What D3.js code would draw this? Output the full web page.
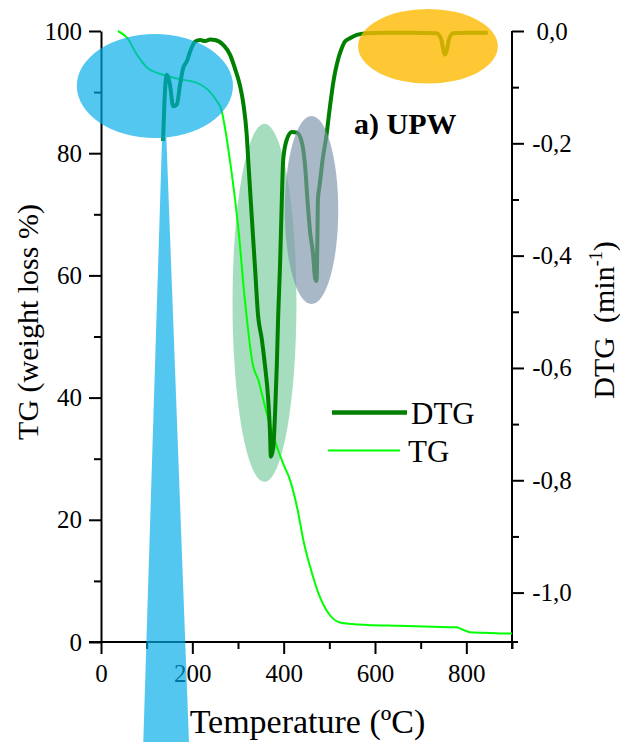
<!DOCTYPE html>
<html>
<head>
<meta charset="utf-8">
<script src="https://cdn.jsdelivr.net/npm/d3@7"></script>
<style>
  html, body { margin: 0; padding: 0; background: #ffffff; }
  svg { display: block; }
  text { font-family: "Liberation Serif", "Times New Roman", serif; fill: #000; }
</style>
</head>
<body>
<script>
// ---------------- data ----------------
// TG curve: temperature (°C) and weight (%)
const tgTemp = [37, 57, 79, 101, 129, 173, 210, 239, 254, 264, 273, 282, 291, 301, 315, 333, 344.5, 355, 363, 372, 385, 400, 414, 432, 443, 458, 476, 498, 523, 550, 582, 650, 728, 779, 793, 808, 840, 874, 900];
const tgValue = [100, 98.9, 96.1, 94.0, 93.0, 92.1, 91.5, 90.0, 88.5, 87.0, 83.5, 79.0, 74.0, 67.5, 56.0, 45.2, 42.9, 39.8, 37.4, 35.0, 32.0, 29.0, 26.5, 21.1, 16.7, 12.3, 8.0, 4.7, 3.2, 2.95, 2.8, 2.65, 2.5, 2.4, 2.0, 1.6, 1.5, 1.4, 1.4];

// DTG curve: temperature (°C) and DTG (1/min)
const dtgTemp = [136, 140, 144, 151, 158, 166, 173, 180, 188, 195, 206, 217, 228, 239, 250, 268, 283, 293, 304, 312, 319, 323, 330, 337, 344, 352, 359, 366, 370, 372, 377, 381, 385, 388, 392, 396, 399, 407, 418, 429, 440, 447, 452, 458, 464, 469, 472, 474, 475, 479, 486, 493, 501, 509, 513, 520, 527, 534, 545, 560, 582, 620, 680, 735, 745, 750, 753, 757, 762, 771, 800, 847];
const dtgValue = [-0.196, -0.108, -0.078, -0.096, -0.134, -0.131, -0.096, -0.066, -0.054, -0.037, -0.019, -0.016, -0.018, -0.015, -0.016, -0.025, -0.043, -0.066, -0.096, -0.131, -0.184, -0.238, -0.329, -0.418, -0.507, -0.548, -0.595, -0.654, -0.713, -0.758, -0.743, -0.684, -0.595, -0.507, -0.418, -0.300, -0.229, -0.193, -0.180, -0.181, -0.199, -0.241, -0.300, -0.359, -0.394, -0.441, -0.445, -0.360, -0.300, -0.273, -0.225, -0.190, -0.137, -0.090, -0.072, -0.048, -0.031, -0.019, -0.013, -0.007, -0.004, -0.003, -0.003, -0.004, -0.015, -0.035, -0.042, -0.035, -0.015, -0.004, -0.003, -0.003];

// tick values
const xMajorTicks = [0, 200, 400, 600, 800];
const xMinorTicks = [100, 300, 500, 700, 900];
const tgMajorTicks = [0, 20, 40, 60, 80, 100];
const tgMinorTicks = [10, 30, 50, 70, 90];
const dtgMajorTicks = [0, -0.2, -0.4, -0.6, -0.8, -1.0];
const dtgMinorTicks = [-0.1, -0.3, -0.5, -0.7, -0.9];

// highlight annotations, in data units (temperature, TG %)
const highlightNames = ["green", "grey", "blue", "orange"];
const highlightCx = [358, 461, 118, 716];
const highlightCy = [55.5, 70.7, 91.0, 97.5];
const highlightRx = [70, 58.5, 171, 153];
const highlightRy = [29.3, 15.4, 8.5, 6.1];
// pointer wedge under the blue ellipse: apex and base (temperature, TG %)
const wedgeTemp = [138, 92.6, 192.7];
const wedgeTG = [92.8, -16.4, -16.4];

// ---------------- layout ----------------
const W = 620, H = 742;
const x = d3.scaleLinear().domain([0, 900]).range([101, 512]);
const yL = d3.scaleLinear().domain([0, 100]).range([642, 31]);
const yR = d3.scaleLinear().domain([-1.088, 0]).range([642, 31]);

const svg = d3.select("body").append("svg").attr("width", W).attr("height", H);

const styles = {
  green:  { fill: "rgb(60,179,113)", op: 0.45 },
  grey:   { fill: "rgb(127,149,172)", op: 0.67 },
  blue:   { fill: "rgb(0,172,234)", op: 0.67 },
  orange: { fill: "rgb(252,186,0)", op: 0.8 }
};

function ellipseAttrs(sel, i) {
  sel.attr("cx", x(highlightCx[i]))
     .attr("cy", yL(highlightCy[i]))
     .attr("rx", x(highlightCx[i] + highlightRx[i]) - x(highlightCx[i]))
     .attr("ry", yL(highlightCy[i]) - yL(highlightCy[i] + highlightRy[i]))
     .attr("fill", styles[highlightNames[i]].fill)
     .attr("fill-opacity", styles[highlightNames[i]].op);
}

// green highlight sits under the curves
svg.append("ellipse").call(ellipseAttrs, 0);

// ---------------- axes ----------------
const fmtDTG = v => (Math.abs(v) < 1e-9 ? 0 : v).toFixed(1).replace(".", ",");
const axisStyle = g => {
  g.attr("font-family", null);
  g.selectAll("path, line").attr("stroke", "#000").attr("stroke-width", 2);
  g.selectAll("text").style("font-size", "25px").style("font-family", '"Liberation Serif","Times New Roman",serif');
};

// bottom axis
const gx = svg.append("g").attr("transform", `translate(0,${yL(0)})`);
gx.call(d3.axisBottom(x).tickValues(xMajorTicks).tickSize(12).tickSizeOuter(0).tickPadding(10).tickFormat(d3.format("d")))
  .call(axisStyle);
gx.select(".domain").remove();
gx.append("line").attr("x1", x(0) - 12).attr("x2", x(900) + 6).attr("y1", 0).attr("y2", 0)
  .attr("stroke", "#000").attr("stroke-width", 2);
const gxm = svg.append("g").attr("transform", `translate(0,${yL(0)})`);
gxm.call(d3.axisBottom(x).tickValues(xMinorTicks).tickSize(7).tickFormat(""));
gxm.select(".domain").remove();
gxm.call(axisStyle);

// left axis
const gl = svg.append("g").attr("transform", `translate(${x(0)},0)`);
gl.call(d3.axisLeft(yL).tickValues(tgMajorTicks).tickSize(12).tickSizeOuter(0).tickPadding(7).tickFormat(d3.format("d")))
  .call(axisStyle);
const glm = svg.append("g").attr("transform", `translate(${x(0)},0)`);
glm.call(d3.axisLeft(yL).tickValues(tgMinorTicks).tickSize(7).tickFormat(""));
glm.select(".domain").remove();
glm.call(axisStyle);

// right axis
const gr = svg.append("g").attr("transform", `translate(${x(900)},0)`);
gr.call(d3.axisRight(yR).tickValues(dtgMajorTicks).tickSize(12).tickSizeOuter(0).tickFormat(fmtDTG))
  .call(axisStyle);
gr.select(".domain").remove();
gr.append("line").attr("x1", 0).attr("x2", 0).attr("y1", yR(0)).attr("y2", yL(0) + 7)
  .attr("stroke", "#000").attr("stroke-width", 2);
gr.selectAll(".tick text").attr("x", 40).attr("text-anchor", "middle");
const grm = svg.append("g").attr("transform", `translate(${x(900)},0)`);
grm.call(d3.axisRight(yR).tickValues(dtgMinorTicks).tickSize(7).tickFormat(""));
grm.select(".domain").remove();
grm.call(axisStyle);

// ---------------- curves ----------------
const tgData = tgTemp.map((t, i) => [t, tgValue[i]]);
const dtgData = dtgTemp.map((t, i) => [t, dtgValue[i]]);

svg.append("path")
  .datum(tgData)
  .attr("fill", "none")
  .attr("stroke", "#00ff00")
  .attr("stroke-width", 2)
  .attr("d", d3.line().x(d => x(d[0])).y(d => yL(d[1])).curve(d3.curveMonotoneX));

svg.append("path")
  .datum(dtgData)
  .attr("fill", "none")
  .attr("stroke", "#008000")
  .attr("stroke-width", 4)
  .attr("stroke-linejoin", "round")
  .attr("d", d3.line().x(d => x(d[0])).y(d => yR(d[1])).curve(d3.curveMonotoneX));

// ---------------- highlights drawn over the curves ----------------
svg.append("ellipse").call(ellipseAttrs, 1);

// blue ellipse + wedge as one shape so the overlap is not doubled
{
  const i = 2;
  const cx = x(highlightCx[i]), cy = yL(highlightCy[i]);
  const rx = x(highlightCx[i] + highlightRx[i]) - cx;
  const ry = yL(highlightCy[i]) - yL(highlightCy[i] + highlightRy[i]);
  let d = `M${cx - rx},${cy} A${rx},${ry} 0 1,0 ${cx + rx},${cy} A${rx},${ry} 0 1,0 ${cx - rx},${cy} Z `;
  d += `M${x(wedgeTemp[0])},${yL(wedgeTG[0])} L${x(wedgeTemp[1])},${yL(wedgeTG[1])} L${x(wedgeTemp[2])},${yL(wedgeTG[2])} Z`;
  svg.append("path").attr("d", d)
    .attr("fill", styles.blue.fill)
    .attr("fill-opacity", styles.blue.op)
    .attr("fill-rule", "nonzero");
}

svg.append("ellipse").call(ellipseAttrs, 3);

// ---------------- texts ----------------
svg.append("text")
  .attr("x", 354).attr("y", 134)
  .style("font-size", "30px").style("font-weight", "bold")
  .text("a) UPW");

// legend
svg.append("line").attr("x1", 332).attr("x2", 407).attr("y1", 412.5).attr("y2", 412.5)
  .attr("stroke", "#008000").attr("stroke-width", 4.5);
svg.append("text").attr("x", 411).attr("y", 424).style("font-size", "31px").text("DTG");
svg.append("line").attr("x1", 328).attr("x2", 400).attr("y1", 450.5).attr("y2", 450.5)
  .attr("stroke", "#00ff00").attr("stroke-width", 2);
svg.append("text").attr("x", 408).attr("y", 461.5).style("font-size", "31px").text("TG");

// axis titles
svg.append("text")
  .attr("x", (x(0) + x(900)) / 2 + 1).attr("y", 733)
  .attr("text-anchor", "middle")
  .style("font-size", "34px")
  .text("Temperature (ºC)");

svg.append("text")
  .attr("transform", "translate(38,322) rotate(-90)")
  .attr("text-anchor", "middle")
  .style("font-size", "30px")
  .text("TG (weight loss %)");

const rt = svg.append("text")
  .attr("transform", "translate(614,320) rotate(-90)")
  .attr("text-anchor", "middle")
  .style("font-size", "30px");
rt.append("tspan").text("DTG");
rt.append("tspan").attr("dx", 14).text("(min");
rt.append("tspan").attr("dy", -12).style("font-size", "18px").text("-1");
rt.append("tspan").attr("dy", 12).text(")");
</script>
</body>
</html>
